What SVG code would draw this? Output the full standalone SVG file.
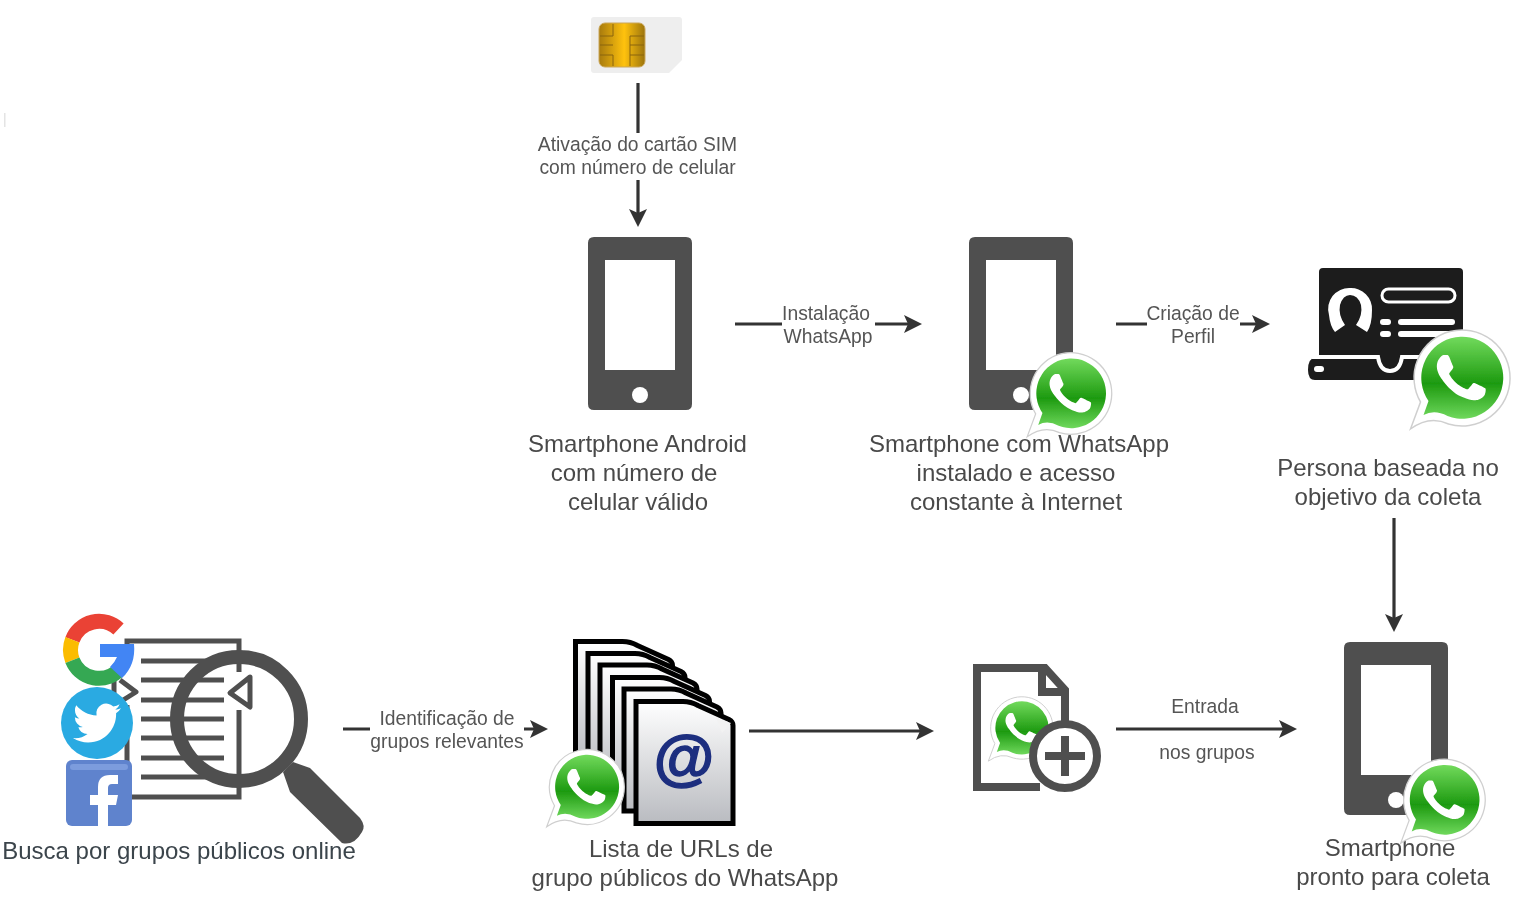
<svg xmlns="http://www.w3.org/2000/svg" xmlns:xlink="http://www.w3.org/1999/xlink" width="1540" height="904" viewBox="0 0 1540 904">
<style>
text{font-family:"Liberation Sans",Arial,sans-serif;text-anchor:middle;fill:#4a4a4a;filter:url(#soft)}
.n{font-size:24px}
.l{font-size:19.300px;fill:#555}
.c{fill:none;stroke:#333;stroke-width:3.200;marker-end:url(#ah)}
.ph{fill:#505050}
.ic{fill:#505050}
.st{fill:none;stroke:#505050}
.pg{fill:url(#pgG);stroke:#000;stroke-width:5;stroke-linejoin:miter}
.icon{filter:url(#soft)}
</style>
<defs>
<filter id="soft" x="-5%" y="-5%" width="110%" height="110%"><feGaussianBlur stdDeviation=".45"/></filter>
<marker id="ah" markerUnits="userSpaceOnUse" markerWidth="18" markerHeight="18" refX="12" refY="9" orient="auto"><path d="M18,9L0,0L4,9L0,18Z" fill="#333"/></marker>
<linearGradient id="waG" x1="0" y1="0" x2="0" y2="1"><stop offset="0" stop-color="#72da5c"/><stop offset=".57" stop-color="#1d9a10"/><stop offset="1" stop-color="#6fd85c"/></linearGradient>
<linearGradient id="pgG" x1="0" y1="0" x2="0" y2="1"><stop offset="0" stop-color="#fff"/><stop offset="1" stop-color="#b9bbc0"/></linearGradient>
<linearGradient id="chip" x1="0" y1="0" x2="1" y2="0"><stop offset="0" stop-color="#a77a08"/><stop offset=".55" stop-color="#ffc20c"/><stop offset="1" stop-color="#9c7408"/></linearGradient>
<g id="wa">
<path d="M-51,51L-41,24A48,48 0 1 1-13,46Q-32,37-51,51Z" fill="#fff" stroke="#cfcfcf" stroke-width="1.500"/>
<path d="M-38,37L-33,23A41,41 0 1 1-14,38Q-27,31-38,37Z" fill="url(#waG)"/>
<path transform="translate(-49,-49) scale(4.05)" fill="#fff" d="M17.472 14.382c-.297-.149-1.758-.867-2.03-.967-.273-.099-.471-.148-.67.15-.197.297-.767.966-.94 1.164-.173.199-.347.223-.644.075-.297-.15-1.255-.463-2.39-1.475-.883-.788-1.48-1.761-1.653-2.059-.173-.297-.018-.458.13-.606.134-.133.298-.347.446-.52.149-.174.198-.298.298-.497.099-.198.05-.371-.025-.52-.075-.149-.669-1.612-.916-2.207-.242-.579-.487-.5-.669-.51-.173-.008-.371-.01-.57-.01-.198 0-.52.074-.792.372-.272.297-1.04 1.016-1.04 2.479 0 1.462 1.065 2.875 1.213 3.074.149.198 2.096 3.2 5.077 4.487.709.306 1.262.489 1.694.625.712.227 1.36.195 1.871.118.571-.085 1.758-.719 2.006-1.413.248-.694.248-1.289.173-1.413-.074-.124-.272-.198-.57-.347z"/>
</g>
<g id="phone">
<path class="ph" fill-rule="evenodd" d="M6,0H98Q104,0 104,6V167Q104,173 98,173H6Q0,173 0,167V6Q0,0 6,0ZM17,23V133H87V23Z"/>
<circle cx="52" cy="158" r="8" fill="#fff"/>
</g>
<path id="page" class="pg" d="M0,0H47Q55,0 62,4L93,18Q97,20 97,24V122H0Z"/>
</defs>

<rect x="4" y="113" width="1.500" height="14" fill="#e4e4e4"/>

<g id="connectors">
<path class="c" d="M638,83V133M638,180V221"/>
<path class="c" d="M735,324H782M875,324H916"/>
<path class="c" d="M1116,324H1147M1240,324H1264"/>
<path class="c" d="M1394,518V626"/>
<path class="c" d="M343,729H370M524,729H542"/>
<path class="c" d="M749,731H928"/>
<path class="c" d="M1116,729H1291"/>
<text class="l" x="637.500" y="151">Ativação do cartão SIM</text>
<text class="l" x="637.500" y="174">com número de celular</text>
<text class="l" x="826" y="320">Instalação</text>
<text class="l" x="828" y="343">WhatsApp</text>
<text class="l" x="1193" y="320">Criação de</text>
<text class="l" x="1193" y="343">Perfil</text>
<text class="l" x="447" y="725">Identificação de</text>
<text class="l" x="447" y="748">grupos relevantes</text>
<text class="l" x="1205" y="713">Entrada</text>
<text class="l" x="1207" y="759">nos grupos</text>
</g>

<g id="sim">
<g class="icon">
<path d="M594,17H679Q682,17 682,20V60L669,73H594Q591,73 591,70V20Q591,17 594,17Z" fill="#eeeeee"/>
<rect x="599" y="23" width="46" height="44" rx="6" fill="url(#chip)" stroke="#caa65a"/>
<path d="M600,36H613M600,45H613M600,55H613M630,36H644M630,45H644M630,55H644M613,24V36M613,55V66M630,36V66" fill="none" stroke="#8a6508" stroke-width="1"/>
</g>
</g>

<g id="phone1">
<use class="icon" xlink:href="#phone" href="#phone" x="588" y="237"/>
<text class="n" x="637.500" y="452">Smartphone Android</text>
<text class="n" x="634" y="481">com número de</text>
<text class="n" x="638" y="510">celular válido</text>
</g>

<g id="phone2">
<use class="icon" xlink:href="#phone" href="#phone" x="969" y="237"/>
<text class="n" x="1019" y="452">Smartphone com WhatsApp</text>
<text class="n" x="1016" y="481">instalado e acesso</text>
<text class="n" x="1016" y="510">constante à Internet</text>
<g class="icon"><use xlink:href="#wa" href="#wa" transform="translate(1070.500,393.500) scale(.85)"/></g>
</g>

<g id="persona">
<g class="icon">
<path d="M1323,268H1459Q1463,268 1463,272V358H1440V380H1315Q1308,380 1308,370Q1308,358 1315,358H1319V272Q1319,268 1323,268Z" fill="#1b1b1b"/>
<path d="M1312,357H1378Q1380,371 1390,371Q1400,371 1402,357H1450" fill="none" stroke="#fff" stroke-width="4"/>
<rect x="1314" y="366" width="10" height="6" rx="3" fill="#fff"/>
<path d="M1350,288A21,21 0 0 0 1329,315Q1330,326 1335,332L1345,325Q1338,315 1340,305Q1343,295 1350,295Q1358,295 1361,305Q1363,315 1356,325L1367,332Q1372,325 1372,310A21,21 0 0 0 1350,288Z" fill="#fff"/>
<rect x="1382" y="289" width="73" height="13" rx="6.500" fill="none" stroke="#fff" stroke-width="3"/>
<rect x="1380" y="319" width="11" height="6" rx="3" fill="#fff"/><rect x="1398" y="319" width="57" height="6" rx="3" fill="#fff"/>
<rect x="1380" y="331" width="11" height="6" rx="3" fill="#fff"/><rect x="1398" y="331" width="57" height="6" rx="3" fill="#fff"/>
<use xlink:href="#wa" href="#wa" transform="translate(1461.500,378)"/>
</g>
<text class="n" x="1388" y="476">Persona baseada no</text>
<text class="n" x="1388" y="505">objetivo da coleta</text>
</g>

<g id="phone3">
<use class="icon" xlink:href="#phone" href="#phone" x="1344" y="642"/>
<text class="n" x="1390" y="856">Smartphone</text>
<text class="n" x="1393" y="885">pronto para coleta</text>
<g class="icon"><use xlink:href="#wa" href="#wa" transform="translate(1444,800) scale(.85)"/></g>
</g>

<g id="search">
<g class="icon">
<path class="st" stroke-width="5" d="M127,660V641H239V672M239,710V797H127V705"/>
<path class="st" stroke-width="5" d="M141,661H224M141,680H224M141,700H224M141,719H224M141,738H224M141,758H224M141,777H224"/>
<path class="st" stroke-width="5" stroke-linejoin="round" d="M114,680V702M120,680L136,692L120,702M250,677L230,693L250,707Z"/>
<circle class="st" cx="239" cy="719" r="62" stroke-width="14"/>
<path class="ic" d="M283,772L293,762L310,768L360,818Q366,826 362,832Q354,846 342,843L290,792Z"/>
<g fill="none" stroke-width="15">
<path d="M118.500,629A28.500,28.500 0 0 0 72.400,639.800" stroke="#ea4335"/>
<path d="M72.400,639.800A28.500,28.500 0 0 0 72.400,660.200" stroke="#fbbc05"/>
<path d="M72.400,660.200A28.500,28.500 0 0 0 120,669" stroke="#34a853"/>
</g>
<path d="M100,644H134Q136,665 122,678L110,667Q115,662 117,657H100Z" fill="#4285f4"/>
<circle cx="97" cy="723" r="36" fill="#2aaae2"/>
<path transform="translate(73,699) scale(2)" fill="#fff" d="M23.953 4.57a10 10 0 01-2.825.775 4.958 4.958 0 002.163-2.723c-.951.555-2.005.959-3.127 1.184a4.92 4.92 0 00-8.384 4.482C7.69 8.095 4.067 6.13 1.64 3.162a4.822 4.822 0 00-.666 2.475c0 1.71.87 3.213 2.188 4.096a4.904 4.904 0 01-2.228-.616v.06a4.923 4.923 0 003.946 4.827 4.996 4.996 0 01-2.212.085 4.936 4.936 0 004.604 3.417 9.867 9.867 0 01-6.102 2.105c-.39 0-.779-.023-1.17-.067a13.995 13.995 0 007.557 2.209c9.053 0 13.998-7.496 13.998-13.985 0-.21 0-.42-.015-.63A9.935 9.935 0 0024 4.59z"/>
<rect x="66" y="760" width="66" height="66" rx="6" fill="#5f83cd"/>
<rect x="70" y="764" width="58" height="6" rx="3" fill="#7c9cdd"/>
<path d="M98,826V805H90V795H98V787Q98,775 110,775H118V784H112Q108,784 108,788V795H118L116,805H108V826Z" fill="#fff"/>
</g>
<text class="n" x="179" y="859" style="fill:#3b444b">Busca por grupos públicos online</text>
</g>

<g id="urls">
<g class="icon">
<use xlink:href="#page" href="#page" x="575.500" y="641.500"/>
<use xlink:href="#page" href="#page" x="588" y="653.500"/>
<use xlink:href="#page" href="#page" x="600" y="665"/>
<use xlink:href="#page" href="#page" x="612.500" y="677.500"/>
<use xlink:href="#page" href="#page" x="624" y="689"/>
<use xlink:href="#page" href="#page" x="636" y="701.500"/>
<path d="M716,718L731,723L722,733Z" fill="#f2f2f2"/>
<text x="684" y="778" style="font-size:62px;font-weight:700;fill:#1e2f7f;stroke:#1e2f7f;stroke-width:1.500;filter:none">@</text>
<use xlink:href="#wa" href="#wa" transform="translate(586.500,787) scale(.78)"/>
</g>
<text class="n" x="681" y="857">Lista de URLs de</text>
<text class="n" x="685" y="886">grupo públicos do WhatsApp</text>
</g>

<g id="add">
<g class="icon">
<path class="st" stroke-width="8" d="M1040,787H977V668H1045L1065,690V725M1042,668V692H1065"/>
<use xlink:href="#wa" href="#wa" transform="translate(1021.500,728) scale(.65)"/>
<circle cx="1065" cy="756" r="32" fill="#fff" stroke="#505050" stroke-width="8"/>
<path d="M1045,756H1085M1065,736V776" fill="none" stroke="#505050" stroke-width="8"/>
</g>
</g>
</svg>
